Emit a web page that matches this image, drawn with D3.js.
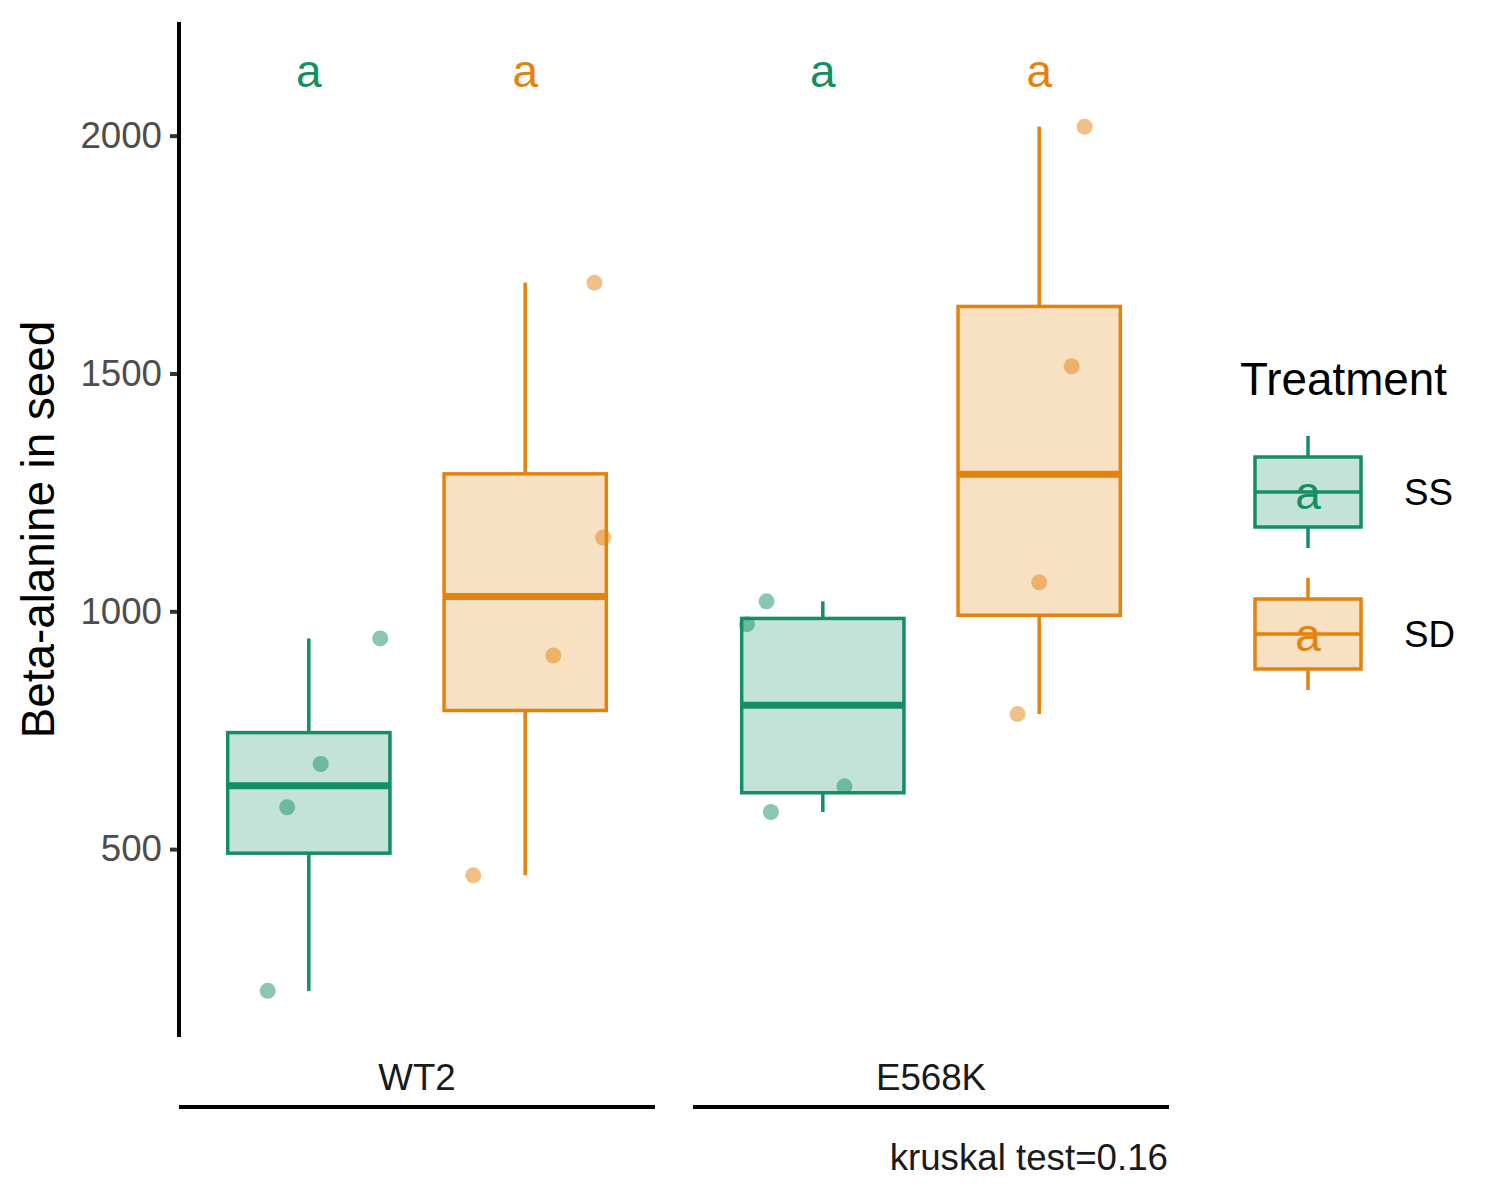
<!DOCTYPE html>
<html>
<head>
<meta charset="utf-8">
<script src="https://cdn.jsdelivr.net/npm/d3@7"></script>
<style>
  body { margin: 0; background: #fff; }
  text { font-family: Arial, "Liberation Sans", sans-serif; }
</style>
</head>
<body>
<div id="chart"></div>
<script>
// values
const genotypes = ['WT2', 'E568K'];
const treatments = ['SS', 'SD'];
const colors = ['#148F63', '#E4820E'];

const wt2SS = [202, 588, 679, 943];
const wt2SD = [445, 907, 1155, 1691];
const e568kSS = [1021, 973, 632, 578];
const e568kSD = [2019, 1515, 1061, 784];

// horizontal jitter, in group-step units
const wt2SSJitter = [-0.19, -0.10, 0.055, 0.33];
const wt2SDJitter = [-0.24, 0.13, 0.36, 0.32];
const e568kSSJitter = [-0.26, -0.35, 0.10, -0.24];
const e568kSDJitter = [0.21, 0.15, 0.0, -0.10];

const letters = ['a', 'a', 'a', 'a'];
const letterValue = 2142;
const yTicks = [500, 1000, 1500, 2000];
const note = 'kruskal test=0.16';

const groups = [
  {genotype: 'WT2', treatment: 'SS', values: wt2SS, jitter: wt2SSJitter, letter: letters[0]},
  {genotype: 'WT2', treatment: 'SD', values: wt2SD, jitter: wt2SDJitter, letter: letters[1]},
  {genotype: 'E568K', treatment: 'SS', values: e568kSS, jitter: e568kSSJitter, letter: letters[2]},
  {genotype: 'E568K', treatment: 'SD', values: e568kSD, jitter: e568kSDJitter, letter: letters[3]}
];

groups.forEach(g => {
  const s = g.values.slice().sort(d3.ascending);
  g.q1 = d3.quantile(s, 0.25);
  g.med = d3.quantile(s, 0.5);
  g.q3 = d3.quantile(s, 0.75);
  const iqr = g.q3 - g.q1;
  g.lo = d3.min(s.filter(v => v >= g.q1 - 1.5 * iqr));
  g.hi = d3.max(s.filter(v => v <= g.q3 + 1.5 * iqr));
});

const width = 1500, height = 1200;
const panelTop = 22, panelBottom = 1037;
const left = 179, right = 1169;

const color = d3.scaleOrdinal(treatments, colors);

const dataMin = d3.min(groups, g => d3.min(g.values));
const span = letterValue - dataMin;
const y = d3.scaleLinear()
  .domain([dataMin - 0.05 * span, letterValue + 0.05 * span])
  .range([panelBottom, panelTop]);

const facet = d3.scaleBand()
  .domain(genotypes)
  .range([left, right])
  .paddingInner(38 / 514);

const x = d3.scalePoint()
  .domain(treatments)
  .range([0, facet.bandwidth()])
  .padding(0.6);

const boxWidth = 0.75 * x.step();

const svg = d3.select('#chart').append('svg')
  .attr('width', width)
  .attr('height', height);

svg.append('rect')
  .attr('width', width)
  .attr('height', height)
  .attr('fill', '#fff');

// y axis
const yAxis = svg.append('g')
  .attr('transform', `translate(${left},0)`)
  .call(d3.axisLeft(y).tickValues(yTicks).tickFormat(d3.format('d')).tickSize(9).tickPadding(8));
yAxis.select('.domain').remove();
yAxis.selectAll('.tick line').attr('stroke', '#333').attr('stroke-width', 4);
yAxis.selectAll('.tick text')
  .attr('fill', '#4D4D4D')
  .style('font-size', '36.7px');
yAxis.append('line')
  .attr('y1', panelTop).attr('y2', panelBottom)
  .attr('stroke', '#000').attr('stroke-width', 4);

svg.append('text')
  .attr('transform', `translate(54,${(panelTop + panelBottom) / 2}) rotate(-90)`)
  .attr('text-anchor', 'middle')
  .style('font-size', '45.8px')
  .text('Beta-alanine in seed');

// panels
const panel = svg.selectAll('.panel')
  .data(genotypes)
  .enter().append('g')
  .attr('class', 'panel')
  .attr('transform', d => `translate(${facet(d)},0)`);

panel.append('text')
  .attr('x', facet.bandwidth() / 2)
  .attr('y', 1090)
  .attr('text-anchor', 'middle')
  .attr('fill', '#1A1A1A')
  .style('font-size', '36.7px')
  .text(d => d);

panel.append('line')
  .attr('x1', 0).attr('x2', facet.bandwidth())
  .attr('y1', 1107).attr('y2', 1107)
  .attr('stroke', '#000').attr('stroke-width', 4);

const box = panel.selectAll('.box')
  .data(gt => groups.filter(g => g.genotype === gt))
  .enter().append('g')
  .attr('class', 'box')
  .attr('transform', d => `translate(${x(d.treatment)},0)`);

box.append('line')
  .attr('y1', d => y(d.hi)).attr('y2', d => y(d.q3))
  .attr('stroke', d => color(d.treatment)).attr('stroke-width', 3.5);
box.append('line')
  .attr('y1', d => y(d.q1)).attr('y2', d => y(d.lo))
  .attr('stroke', d => color(d.treatment)).attr('stroke-width', 3.5);
box.append('rect')
  .attr('x', -boxWidth / 2)
  .attr('width', boxWidth)
  .attr('y', d => y(d.q3))
  .attr('height', d => y(d.q1) - y(d.q3))
  .attr('fill', d => color(d.treatment))
  .attr('fill-opacity', 0.25)
  .attr('stroke', d => color(d.treatment))
  .attr('stroke-width', 3.5);
box.append('line')
  .attr('x1', -boxWidth / 2).attr('x2', boxWidth / 2)
  .attr('y1', d => y(d.med)).attr('y2', d => y(d.med))
  .attr('stroke', d => color(d.treatment)).attr('stroke-width', 7);

box.selectAll('circle')
  .data(d => d.values.map((v, i) => ({v, j: d.jitter[i], t: d.treatment})))
  .enter().append('circle')
  .attr('cx', d => d.j * x.step())
  .attr('cy', d => y(d.v))
  .attr('r', 8)
  .attr('fill', d => color(d.t))
  .attr('fill-opacity', 0.5);

box.append('text')
  .attr('y', y(letterValue) + 19)
  .attr('text-anchor', 'middle')
  .attr('fill', d => color(d.treatment))
  .style('font-size', '46px')
  .text(d => d.letter);

// note
svg.append('text')
  .attr('x', right - 1)
  .attr('y', 1170)
  .attr('text-anchor', 'end')
  .attr('fill', '#1A1A1A')
  .style('font-size', '36.7px')
  .text(note);

// legend
const legend = svg.append('g').attr('transform', 'translate(1240,0)');
legend.append('text')
  .attr('x', 0).attr('y', 395)
  .style('font-size', '45.8px')
  .text('Treatment');

const key = legend.selectAll('.key')
  .data(treatments)
  .enter().append('g')
  .attr('class', 'key')
  .attr('transform', (d, i) => `translate(68,${492 + i * 142})`);

key.append('line')
  .attr('y1', -56).attr('y2', 56)
  .attr('stroke', d => color(d)).attr('stroke-width', 3.5);
key.append('rect')
  .attr('x', -53).attr('width', 106)
  .attr('y', -35).attr('height', 70)
  .attr('fill', '#fff')
  .attr('stroke', 'none');
key.append('rect')
  .attr('x', -53).attr('width', 106)
  .attr('y', -35).attr('height', 70)
  .attr('fill', d => color(d))
  .attr('fill-opacity', 0.25)
  .attr('stroke', d => color(d))
  .attr('stroke-width', 3.5);
key.append('line')
  .attr('x1', -53).attr('x2', 53)
  .attr('stroke', d => color(d)).attr('stroke-width', 3.5);
key.append('text')
  .attr('y', 17)
  .attr('text-anchor', 'middle')
  .attr('fill', d => color(d))
  .style('font-size', '46px')
  .text('a');
key.append('text')
  .attr('x', 96)
  .attr('y', 13)
  .style('font-size', '36.7px')
  .text(d => d);
</script>
</body>
</html>
